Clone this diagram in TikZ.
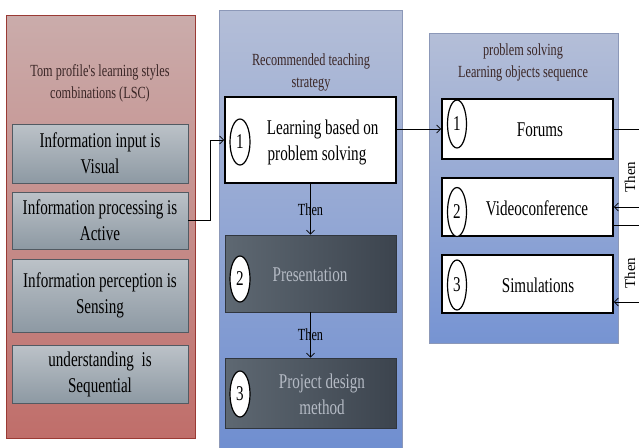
\documentclass[tikz,border=0pt]{standalone}
\usepackage{fontspec}
\setmainfont{Liberation Serif}
\newfontfamily\narrowserif[FakeStretch=0.72]{Liberation Serif}
\usetikzlibrary{arrows.meta,shapes.geometric}
\definecolor{lsctop}{HTML}{CAACAB}
\definecolor{lscbot}{HTML}{C06E6A}
\definecolor{lscedge}{HTML}{9A3A34}
\definecolor{bluetop}{HTML}{B4BED7}
\definecolor{bluebot}{HTML}{6F8ED0}
\definecolor{blueedge}{HTML}{8C98B8}
\definecolor{greytop}{HTML}{BCC2C8}
\definecolor{greybot}{HTML}{8D99A3}
\definecolor{greyedge}{HTML}{525A62}
\definecolor{darkleft}{HTML}{5E6872}
\definecolor{darkright}{HTML}{3C444E}
\definecolor{darktext}{HTML}{B4BAC4}
\definecolor{titlecol}{HTML}{3A2626}
\begin{document}
\begin{tikzpicture}[x=1pt,y=-1pt,inner sep=0pt,
  bigfont/.style={font=\narrowserif\fontsize{21}{26}\selectfont},
  titletext/.style={font=\narrowserif\fontsize{17}{22}\selectfont,align=center,text=titlecol},
  lscbox/.style={draw=greyedge,line width=0.8pt,top color=greytop,bottom color=greybot,
    minimum width=176pt,bigfont,align=center},
  whitebox/.style={draw,line width=1.6pt,fill=white,minimum width=171pt},
  darkbox/.style={draw=darkright!80!black,line width=0.6pt,left color=darkleft,right color=darkright,
    minimum width=171pt},
  numring/.style={ellipse,draw,line width=1.2pt,fill=white,minimum width=20pt,minimum height=46pt,bigfont},
  arr/.style={-{Straight Barb[length=4pt,width=8pt]},line width=0.8pt},
  thenlbl/.style={font=\narrowserif\fontsize{17}{20}\selectfont}]
\clip (0,0) rectangle (639,447);
% left panel
\node (lsc) at (100.5,226.5) [draw=lscedge,line width=0.9pt,top color=lsctop,bottom color=lscbot,
  minimum width=189pt,minimum height=423pt] {};
\node (lsct) at (100,83) [titletext] {Tom profile's learning styles\\combinations (LSC)};
\node (input) at (100,153.5) [lscbox,minimum height=59pt] {Information input is\\Visual};
\node (proc) at (100,220.5) [lscbox,minimum height=57pt] {Information processing is\\Active};
\node (perc) at (100,295.5) [lscbox,minimum height=73pt] {Information perception is\\Sensing};
\node (under) at (100,374) [lscbox,minimum height=58pt] {understanding\ \ is\\Sequential};
% middle panel
\node (strat) at (310.5,231) [draw=blueedge,line width=0.8pt,top color=bluetop,bottom color=bluebot,
  minimum width=183pt,minimum height=442pt] {};
\node (stratt) at (311,72) [titletext] {Recommended teaching\\strategy};
\node (pbl) at (310.5,140) [whitebox,minimum height=86pt] {};
\node (pblt) at (317,142) [bigfont,align=center] {\ \ \ Learning based on\\problem solving};
\node (pres) at (310.5,273.5) [darkbox,minimum height=77pt] {};
\node (prest) at (310,275) [bigfont,text=darktext] {Presentation};
\node (proj) at (310.5,393) [darkbox,minimum height=70pt] {};
\node (projt) at (322,394) [bigfont,text=darktext,align=center] {Project design\\method};
\node (n1) at (240,142) [numring] {1};
\node (n2) at (240,279) [numring] {2};
\node (n3) at (240,394) [numring] {3};
% right panel
\node (seq) at (523.5,188) [draw=blueedge,line width=0.8pt,top color=bluetop,bottom color=bluebot!95!white,
  minimum width=189pt,minimum height=310pt] {};
\node (seqt) at (523,62) [titletext] {problem solving\\Learning objects sequence};
\node (forum) at (527.5,129) [whitebox,minimum height=60pt] {};
\node (forumt) at (540,130) [bigfont] {Forums};
\node (visio) at (527.5,207) [whitebox,minimum height=58pt] {};
\node (visiot) at (537,208) [bigfont] {Videoconference};
\node (simu) at (527.5,284) [whitebox,minimum height=58pt] {};
\node (simut) at (538,285) [bigfont] {Simulations};
\node (o1) at (457,124) [numring,minimum width=19pt,minimum height=48pt] {1};
\node (o2) at (457,212) [numring,minimum width=19pt,minimum height=49pt] {2};
\node (o3) at (457,285) [numring,minimum width=19pt,minimum height=50pt] {3};
% connectors
\draw [arr] (proc.east) -- ++(22,0) |- (pbl.west);
\draw [arr] (pbl.east |- forum.west) -- (forum.west);
\draw [arr] (pbl.south) -- (pres.north) node [midway,thenlbl] {Then};
\draw [arr] (pres.south) -- (proj.north) node [midway,thenlbl] {Then};
\coordinate (loopa) at (645,129);
\coordinate (loopb) at (645,225);
\draw [arr] (forum.east) -- (loopa) |- (visio.east);
\draw [arr] ([yshift=-18pt]visio.east) -- (loopb) |- ([yshift=-18pt]simu.east);
\node (then1) at (630,177) [rotate=90,font=\fontsize{15}{18}\selectfont] {Then};
\node (then2) at (630,273) [rotate=90,font=\fontsize{15}{18}\selectfont] {Then};
\end{tikzpicture}
\end{document}
